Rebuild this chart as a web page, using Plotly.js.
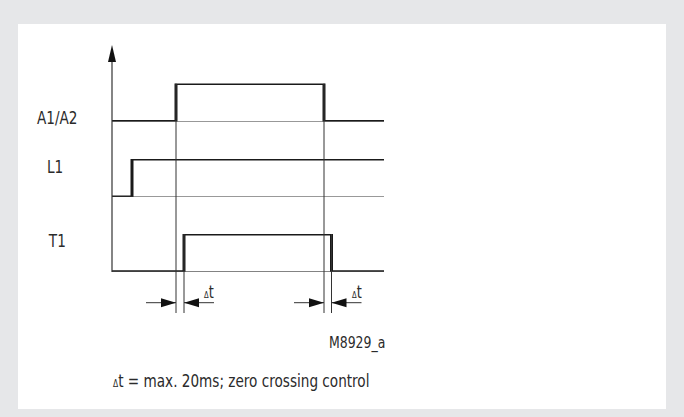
<!DOCTYPE html>
<html>
<head>
<meta charset="utf-8">
<script src="https://cdn.plot.ly/plotly-3.0.1.min.js"></script>
<style>html,body{margin:0;padding:0;background:#e6e7e9;}#chart{width:684px;height:417px;}</style>
</head>
<body>
<div id="chart"></div>
<script>
// ---- data (time in diagram units, level 0 = low, 1 = high) ----
const signalNames = ["A1/A2", "L1", "T1"];
const timeA1 = [0, 64, 212, 272];
const levelA1 = [0, 1, 0, 0];
const timeL1 = [0, 20, 272];
const levelL1 = [0, 1, 1];
const timeT1 = [0, 72, 219.5, 272];
const levelT1 = [0, 1, 0, 0];
const deltaPairs = [[64, 72], [212, 219.5]];
const modelCode = "M8929_a";
const footnote = "<span style='font-size:10px'>Δ</span>t = max. 20ms; zero crossing control";

// ---- layout geometry (pixels) ----
const W = 684, H = 417;
const originPx = 112;            // time 0 at this pixel
const rowLow = [121.5, 197, 271.7];
const rowHigh = [83.5, 159, 234];
const FONT = "'Liberation Sans Narrow', 'DejaVu Sans Condensed', 'Arial Narrow', sans-serif";
const INK = "#2b2b2b";
const NARROW = 0.84;             // horizontal condensing of text (reference uses a condensed face)

function dom(i) { return [1 - rowLow[i] / H, 1 - rowHigh[i] / H]; }

const thick = {color: "#1a1a1a", width: 3, shape: "hv"};
const traces = [
  {x: timeA1, y: levelA1, yaxis: "y2", xaxis: "x", mode: "lines", line: thick, hoverinfo: "skip"},
  {x: timeL1, y: levelL1, yaxis: "y3", xaxis: "x", mode: "lines", line: thick, hoverinfo: "skip"},
  {x: timeT1, y: levelT1, yaxis: "y4", xaxis: "x", mode: "lines", line: thick, hoverinfo: "skip"}
];

const endT = timeA1[timeA1.length - 1];
const thin = {color: "#333", width: 1};
const shapes = [];
// white panel
shapes.push({type: "rect", xref: "paper", yref: "paper", x0: 18 / W, x1: 666 / W, y0: 1 - 409 / H, y1: 1 - 24 / H,
  fillcolor: "#ffffff", line: {width: 0}, layer: "below"});
// baselines
["y2", "y3", "y4"].forEach(function (ya) {
  shapes.push({type: "line", xref: "x", yref: ya, x0: 0, x1: endT, y0: 0, y1: 0, line: thin});
});
// vertical axis with arrow
shapes.push({type: "line", xref: "x", yref: "y", x0: 0, x1: 0, y0: 272, y1: 58, line: {color: "#333", width: 1.2}});
shapes.push({type: "path", xref: "x", yref: "y", path: "M -4 62 L 4 62 L 0 45 Z", fillcolor: "#111", line: {width: 0}});
// vertical guide lines and delta arrows
const arrowY = 302.7, guideBottom = 313, headLen = 15, headHalf = 4.5, shaft = 30;
deltaPairs.forEach(function (p) {
  const a = p[0], b = p[1];
  shapes.push({type: "line", xref: "x", yref: "y", x0: a, x1: a, y0: rowHigh[0], y1: guideBottom, line: thin});
  shapes.push({type: "line", xref: "x", yref: "y", x0: b, x1: b, y0: rowHigh[2], y1: guideBottom, line: thin});
  shapes.push({type: "line", xref: "x", yref: "y", x0: a - shaft, x1: a, y0: arrowY, y1: arrowY, line: thin});
  shapes.push({type: "line", xref: "x", yref: "y", x0: b, x1: b + shaft, y0: arrowY, y1: arrowY, line: thin});
  shapes.push({type: "path", xref: "x", yref: "y",
    path: "M " + (a - headLen) + " " + (arrowY - headHalf) + " L " + a + " " + arrowY + " L " + (a - headLen) + " " + (arrowY + headHalf) + " Z",
    fillcolor: "#111", line: {width: 0}});
  shapes.push({type: "path", xref: "x", yref: "y",
    path: "M " + (b + headLen) + " " + (arrowY - headHalf) + " L " + b + " " + arrowY + " L " + (b + headLen) + " " + (arrowY + headHalf) + " Z",
    fillcolor: "#111", line: {width: 0}});
});

const annotations = [];
const labelX = [35, 45, 45.5];
const labelY = [117, 166, 240];
signalNames.forEach(function (n, i) {
  annotations.push({xref: "x2", yref: "y", x: labelX[i], y: labelY[i], text: n, showarrow: false,
    xanchor: "left", yanchor: "middle", font: {family: FONT, size: 18, color: INK}});
});
deltaPairs.forEach(function (p) {
  annotations.push({xref: "x", yref: "y", x: p[1] + 18, y: 292, text: "<span style='font-size:9px'>Δ</span>t",
    showarrow: false, xanchor: "left", yanchor: "middle", font: {family: FONT, size: 17, color: INK}});
});
annotations.push({xref: "x2", yref: "y", x: 327, y: 343, text: modelCode, showarrow: false,
  xanchor: "left", yanchor: "middle", font: {family: FONT, size: 16.5, color: INK}});
annotations.push({xref: "x2", yref: "y", x: 111, y: 380, text: footnote, showarrow: false,
  xanchor: "left", yanchor: "middle", font: {family: FONT, size: 18, color: INK}});

const hidden = {visible: false, showgrid: false, zeroline: false, fixedrange: true};
const layout = {
  width: W, height: H,
  margin: {l: 0, r: 0, t: 0, b: 0, pad: 0},
  paper_bgcolor: "#e6e7e9", plot_bgcolor: "rgba(0,0,0,0)",
  showlegend: false,
  xaxis: Object.assign({range: [-originPx, W - originPx], domain: [0, 1]}, hidden),
  xaxis2: Object.assign({range: [0, W], overlaying: "x", domain: [0, 1]}, hidden),
  yaxis: Object.assign({range: [H, 0], domain: [0, 1]}, hidden),
  yaxis2: Object.assign({range: [0, 1], domain: dom(0)}, hidden),
  yaxis3: Object.assign({range: [0, 1], domain: dom(1)}, hidden),
  yaxis4: Object.assign({range: [0, 1], domain: dom(2)}, hidden),
  shapes: shapes,
  annotations: annotations
};
Plotly.newPlot("chart", traces, layout, {displayModeBar: false, staticPlot: true}).then(function (gd) {
  // condense annotation text horizontally, keeping its left edge in place
  gd.querySelectorAll("text.annotation-text").forEach(function (t) {
    const b0 = t.getBBox();
    t.setAttribute("textLength", (t.getComputedTextLength() * NARROW).toFixed(2));
    t.setAttribute("lengthAdjust", "spacingAndGlyphs");
    const b1 = t.getBBox();
    const x = parseFloat(t.getAttribute("x") || "0");
    t.setAttribute("x", (x + (b0.x - b1.x)).toFixed(2));
  });
});
</script>
</body>
</html>
